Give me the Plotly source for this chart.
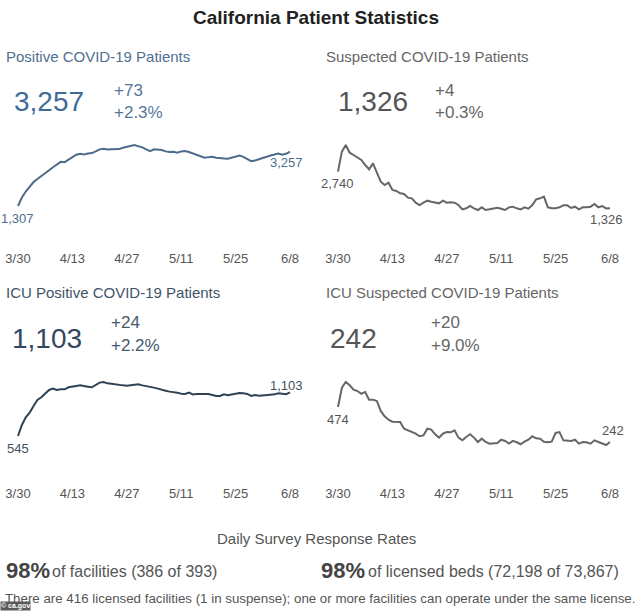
import pandas as pd
import plotly.graph_objects as go

W, H = 640, 611
dates = pd.date_range("2020-03-30", "2020-06-08", freq="D")

positive = [1307, 1610, 1828, 2010, 2167, 2276, 2373, 2494, 2591, 2700, 2797,
            2894, 2882, 2978, 3075, 3148, 3184, 3160, 3196, 3209, 3269,
            3342, 3366, 3338, 3345, 3336, 3351, 3402, 3439, 3487, 3499,
            3451, 3414, 3342, 3281, 3342, 3342, 3318, 3269, 3245, 3257,
            3221, 3269, 3281, 3245, 3196, 3160, 3100, 3039, 3063, 3075,
            3039, 3039, 3015, 3003, 3039, 3100, 3124, 3075, 3003, 2918,
            2942, 2978, 3039, 3075, 3124, 3172, 3196, 3148, 3184, 3257]

suspected = [2740, 3511, 3768, 3472, 3382, 3292, 3190, 2996, 2830, 3060, 2740,
             2354, 2226, 2316, 2033, 1994, 1904, 1879, 1737, 1712, 1545,
             1455, 1545, 1622, 1583, 1545, 1519, 1622, 1545, 1557, 1545,
             1455, 1287, 1326, 1416, 1326, 1262, 1365, 1262, 1287, 1313,
             1352, 1313, 1262, 1365, 1390, 1326, 1287, 1365, 1313, 1455,
             1673, 1712, 1776, 1365, 1326, 1326, 1365, 1442, 1442, 1339,
             1390, 1287, 1365, 1365, 1390, 1493, 1365, 1416, 1322, 1326]

icu_positive = [545, 686, 783, 843, 928, 1005, 1039, 1090, 1133, 1150, 1133,
                1141, 1141, 1167, 1180, 1184, 1192, 1180, 1175, 1167, 1192,
                1227, 1235, 1218, 1214, 1205, 1197, 1192, 1188, 1192, 1197,
                1205, 1192, 1184, 1180, 1163, 1150, 1133, 1124, 1112, 1107,
                1099, 1086, 1082, 1099, 1077, 1082, 1082, 1077, 1082, 1069,
                1056, 1056, 1077, 1065, 1073, 1086, 1094, 1090, 1082, 1056,
                1069, 1060, 1065, 1077, 1073, 1077, 1090, 1086, 1079, 1103]

icu_suspected = [474, 602, 640, 618, 589, 580, 562, 574, 523, 523, 514,
                 448, 412, 390, 377, 375, 375, 330, 319, 308, 297,
                 280, 286, 330, 324, 293, 271, 297, 308, 306, 319,
                 271, 253, 275, 293, 271, 242, 264, 242, 231, 235,
                 235, 257, 249, 231, 249, 240, 227, 244, 257, 280,
                 266, 264, 244, 240, 244, 302, 308, 253, 253, 249,
                 257, 231, 242, 240, 231, 253, 242, 231, 222, 242]

tick_dates = ["2020-03-30", "2020-04-13", "2020-04-27", "2020-05-11", "2020-05-25", "2020-06-08"]
tick_labels = ["3/30", "4/13", "4/27", "5/11", "5/25", "6/8"]

panel_titles = ["Positive COVID-19 Patients", "Suspected COVID-19 Patients",
                "ICU Positive COVID-19 Patients", "ICU Suspected COVID-19 Patients"]
current_values = ["3,257", "1,326", "1,103", "242"]
changes = ["+73", "+4", "+24", "+20"]
pct_changes = ["+2.3%", "+0.3%", "+2.2%", "+9.0%"]
start_labels = ["1,307", "2,740", "545", "474"]
end_labels = ["3,257", "1,326", "1,103", "242"]

series = [positive, suspected, icu_positive, icu_suspected]

FONT = "Liberation Sans, Arial, sans-serif"

# layout per panel (pixel geometry)
panels = [
    dict(x0=18, x1=290, top=145, bot=206, axis=249,
         hx=4, hy=56, nx=12, ny=101, cx=112, cy=90, py_=112,
         title_c="#4f6f90", num_c="#3f6c96", chg_c="#56779a", line_c="#4d6b8b", lab_c="#4d6d8f",
         s_shift=-12, e_shift=-11, e_xshift=-3),
    dict(x0=338, x1=610, top=145, bot=210, axis=249,
         hx=324, hy=56, nx=336, ny=101, cx=433, cy=90, py_=112,
         title_c="#666666", num_c="#555555", chg_c="#666666", line_c="#666666", lab_c="#555555",
         s_shift=-12, e_shift=-11, e_xshift=-3),
    dict(x0=18, x1=290, top=382, bot=436, axis=484,
         hx=4, hy=292, nx=10, ny=338, cx=109, cy=322, py_=345,
         title_c="#3f5468", num_c="#34495e", chg_c="#45596c", line_c="#2f4254", lab_c="#3d4f60",
         s_shift=-12, e_shift=7, e_xshift=-3),
    dict(x0=338, x1=610, top=382, bot=445, axis=484,
         hx=324, hy=292, nx=328, ny=338, cx=429, cy=322, py_=345,
         title_c="#666666", num_c="#555555", chg_c="#666666", line_c="#666666", lab_c="#555555",
         s_shift=-12, e_shift=11, e_xshift=3),
]


def fy(px):
    return 1 - px / H


def fx(px):
    return px / W


fig = go.Figure()
annotations = []
layout_axes = {}
ndays = len(dates) - 1

for i, (vals, p) in enumerate(zip(series, panels)):
    n = i + 1
    xa = "x" if n == 1 else f"x{n}"
    ya = "y" if n == 1 else f"y{n}"
    xkey = "xaxis" if n == 1 else f"xaxis{n}"
    ykey = "yaxis" if n == 1 else f"yaxis{n}"

    fig.add_trace(go.Scatter(x=dates, y=vals, mode="lines", xaxis=xa, yaxis=ya,
                             line=dict(color=p["line_c"], width=2), hoverinfo="skip",
                             showlegend=False))

    vmin, vmax = min(vals), max(vals)
    h = p["bot"] - p["top"]
    padf = 0.06
    span = vmax - vmin
    yr = [vmin - padf * span, vmax + padf * span]
    ydom = [fy(p["bot"] + padf * h), fy(p["top"] - padf * h)]

    ppd = (p["x1"] - p["x0"]) / ndays
    xr = [dates[0] - pd.Timedelta(hours=12), dates[-1] + pd.Timedelta(hours=12)]
    xdom = [fx(p["x0"] - ppd / 2), fx(p["x1"] + ppd / 2)]

    layout_axes[xkey] = dict(domain=xdom, range=xr, anchor="free", position=fy(p["axis"]),
                             showgrid=False, zeroline=False, showline=False, ticks="",
                             tickmode="array", tickvals=tick_dates, ticktext=tick_labels,
                             tickfont=dict(family=FONT, size=13, color="#555555"),
                             automargin=False, fixedrange=True)
    layout_axes[ykey] = dict(domain=ydom, range=yr, anchor=xa, visible=False,
                             showgrid=False, zeroline=False, automargin=False, fixedrange=True)

    # endpoint labels
    annotations.append(dict(x=dates[0], y=vals[0], xref=xa, yref=ya, text=start_labels[i],
                            showarrow=False, yshift=p["s_shift"], xanchor="center", yanchor="middle",
                            font=dict(family=FONT, size=13, color=p["lab_c"])))
    annotations.append(dict(x=dates[-1], y=vals[-1], xref=xa, yref=ya, text=end_labels[i],
                            showarrow=False, yshift=p["e_shift"], xshift=p["e_xshift"],
                            xanchor="center", yanchor="middle",
                            font=dict(family=FONT, size=13, color=p["lab_c"])))

    # header texts
    annotations.append(dict(x=fx(p["hx"]), y=fy(p["hy"]), xref="paper", yref="paper",
                            text=panel_titles[i], showarrow=False, xanchor="left", yanchor="middle",
                            font=dict(family=FONT, size=15, color=p["title_c"])))
    annotations.append(dict(x=fx(p["nx"]), y=fy(p["ny"]), xref="paper", yref="paper",
                            text=current_values[i], showarrow=False, xanchor="left", yanchor="middle",
                            font=dict(family=FONT, size=28, color=p["num_c"])))
    annotations.append(dict(x=fx(p["cx"]), y=fy(p["cy"]), xref="paper", yref="paper",
                            text=changes[i], showarrow=False, xanchor="left", yanchor="middle",
                            font=dict(family=FONT, size=17, color=p["chg_c"])))
    annotations.append(dict(x=fx(p["cx"]), y=fy(p["py_"]), xref="paper", yref="paper",
                            text=pct_changes[i], showarrow=False, xanchor="left", yanchor="middle",
                            font=dict(family=FONT, size=17, color=p["chg_c"])))

# main title
annotations.append(dict(x=fx(316), y=fy(17), xref="paper", yref="paper",
                        text="<b>California Patient Statistics</b>", showarrow=False,
                        xanchor="center", yanchor="middle",
                        font=dict(family=FONT, size=19, color="#222222")))

# bottom section
annotations.append(dict(x=fx(316), y=fy(538), xref="paper", yref="paper",
                        text="Daily Survey Response Rates", showarrow=False,
                        xanchor="center", yanchor="middle",
                        font=dict(family=FONT, size=15, color="#555555")))
annotations.append(dict(x=fx(4), y=fy(570), xref="paper", yref="paper",
                        text="<b>98%</b>", showarrow=False, xanchor="left", yanchor="middle",
                        font=dict(family=FONT, size=22, color="#444444")))
annotations.append(dict(x=fx(50), y=fy(571), xref="paper", yref="paper",
                        text="of facilities (386 of 393)", showarrow=False, xanchor="left",
                        yanchor="middle", font=dict(family=FONT, size=16, color="#555555")))
annotations.append(dict(x=fx(319), y=fy(570), xref="paper", yref="paper",
                        text="<b>98%</b>", showarrow=False, xanchor="left", yanchor="middle",
                        font=dict(family=FONT, size=22, color="#444444")))
annotations.append(dict(x=fx(366), y=fy(571), xref="paper", yref="paper",
                        text="of licensed beds (72,198 of 73,867)", showarrow=False,
                        xanchor="left", yanchor="middle",
                        font=dict(family=FONT, size=16, color="#555555")))
annotations.append(dict(x=fx(3), y=fy(598), xref="paper", yref="paper",
                        text="There are 416 licensed facilities (1 in suspense); one or more facilities can operate under the same license.",
                        showarrow=False, xanchor="left", yanchor="middle",
                        font=dict(family=FONT, size=13.3, color="#555555")))
annotations.append(dict(x=0, y=0, xref="paper", yref="paper", text="<b>© ca.gov</b>",
                        showarrow=False, xanchor="left", yanchor="bottom",
                        bgcolor="#5a5a5a", borderpad=0,
                        font=dict(family=FONT, size=7, color="#ffffff")))

fig.update_layout(width=W, height=H,
                  margin=dict(l=0, r=0, t=0, b=0, pad=0, autoexpand=False),
                  paper_bgcolor="white", plot_bgcolor="white",
                  annotations=annotations, showlegend=False, **layout_axes)

fig.write_html("out.html", config={"displayModeBar": False})
